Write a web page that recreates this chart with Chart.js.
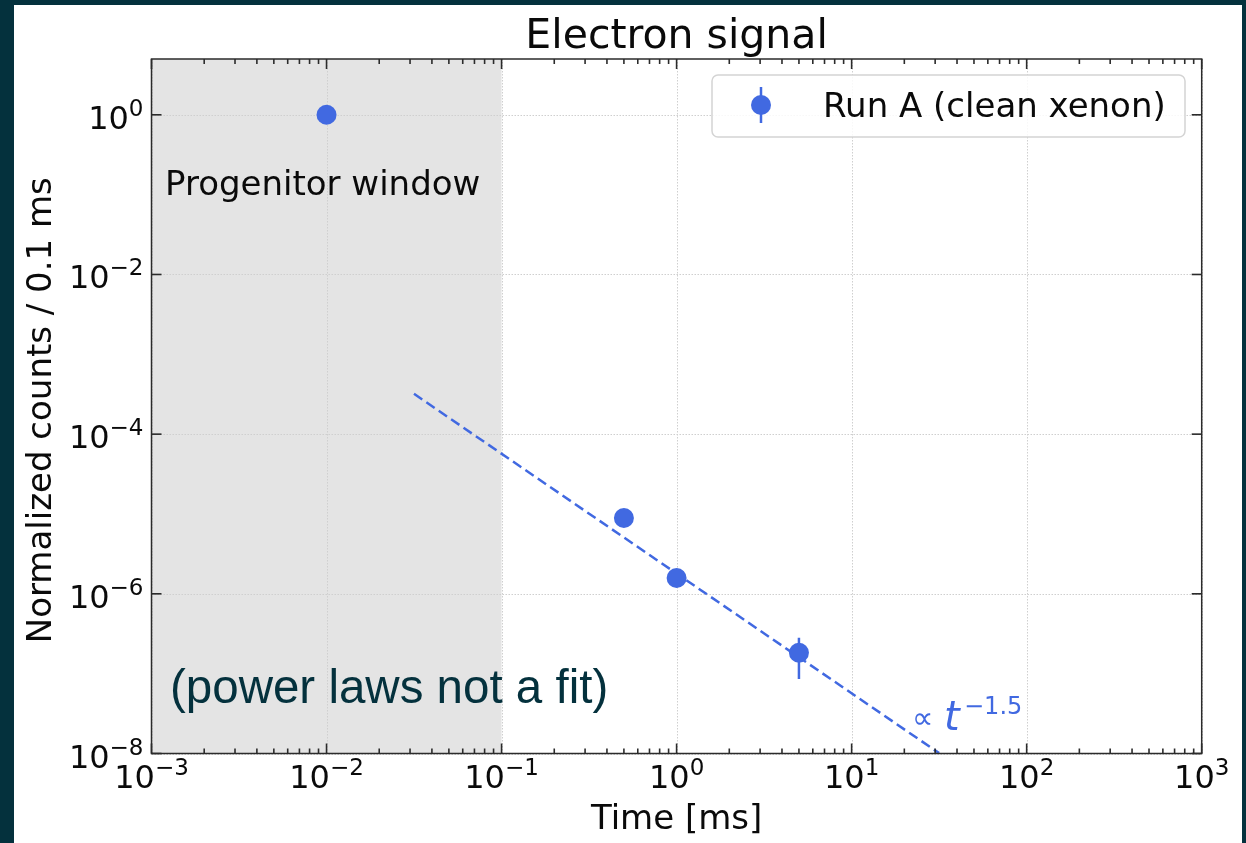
<!DOCTYPE html>
<html>
<head>
<meta charset="utf-8">
<script src="https://cdn.jsdelivr.net/npm/chart.js@4.4.1/dist/chart.umd.min.js"></script>
<style>
  html, body { margin: 0; padding: 0; background: #04313d; }
  #panel { position: absolute; left: 14px; top: 5px; width: 1228px; height: 838px; background: #fff; }
  #wrap { position: absolute; left: 0; top: 0; width: 1246px; height: 843px; }
</style>
</head>
<body>
<div id="panel"></div>
<div id="wrap"><canvas id="chart"></canvas></div>
<script>
// data
const runLabel = 'Run A (clean xenon)';
const runT = [0.01, 0.5, 1, 5];
const runY = [1.0, 8.9e-6, 1.58e-6, 1.83e-7];
const runErrLo = [0.97, 8.5e-6, 1.5e-6, 8.6e-8];
const runErrHi = [1.03, 9.3e-6, 1.66e-6, 2.82e-7];

// power law guide, t^-1.5 (not a fit)
const lawT = [0.0316, 31.6];
const lawY = [3.2e-4, 1.01e-8];

const windowRange = [1e-3, 1e-1];
const xTickExps = [-3, -2, -1, 0, 1, 2, 3];
const yTickExps = [-8, -6, -4, -2, 0];

const blue = '#4169e1';
const ink = '#0a0a0a';

function sciLabel(ctx, exp, x, y, align) {
  const sup = exp < 0 ? '\u2212' + (-exp) : String(exp);
  ctx.font = '32px "DejaVu Sans"';
  const w1 = ctx.measureText('10').width;
  ctx.font = '23px "DejaVu Sans"';
  const w2 = ctx.measureText(sup).width;
  const x0 = align === 'center' ? x - (w1 + w2) / 2 : x - (w1 + w2);
  ctx.textAlign = 'left';
  ctx.font = '32px "DejaVu Sans"';
  ctx.fillText('10', x0, y);
  ctx.font = '23px "DejaVu Sans"';
  ctx.fillText(sup, x0 + w1, y - 13);
}

function seg(ctx, x0, y0, x1, y1) {
  ctx.beginPath();
  ctx.moveTo(x0, y0);
  ctx.lineTo(x1, y1);
  ctx.stroke();
}

const axesPlugin = {
  id: 'axesPlugin',
  beforeDatasetsDraw(chart) {
    const { ctx, chartArea: a, scales: { x, y } } = chart;
    ctx.save();
    const w0 = x.getPixelForValue(windowRange[0]);
    const w1 = x.getPixelForValue(windowRange[1]);
    ctx.fillStyle = '#e4e4e4';
    ctx.fillRect(w0, a.top, w1 - w0, a.bottom - a.top);

    ctx.strokeStyle = '#cfcfcf';
    ctx.lineWidth = 1;
    ctx.setLineDash([1.5, 1.5]);
    xTickExps.forEach(e => {
      const px = Math.round(x.getPixelForValue(10 ** e)) + 0.5;
      seg(ctx, px, a.top, px, a.bottom);
    });
    yTickExps.forEach(e => {
      const py = Math.round(y.getPixelForValue(10 ** e)) + 0.5;
      seg(ctx, a.left, py, a.right, py);
    });
    ctx.restore();
  },
  afterDatasetsDraw(chart) {
    const { ctx, chartArea: a, scales: { x, y } } = chart;
    ctx.save();
    ctx.strokeStyle = '#2b2b2b';
    ctx.lineWidth = 1.5;
    ctx.strokeRect(a.left, a.top, a.right - a.left, a.bottom - a.top);

    // ticks, all pointing inward
    ctx.lineWidth = 1.6;
    xTickExps.forEach((e, i) => {
      const px = x.getPixelForValue(10 ** e);
      seg(ctx, px, a.bottom, px, a.bottom - 10);
      seg(ctx, px, a.top, px, a.top + 10);
      if (i < xTickExps.length - 1) {
        for (let m = 2; m <= 9; m++) {
          const mx = x.getPixelForValue(m * 10 ** e);
          seg(ctx, mx, a.bottom, mx, a.bottom - 5);
          seg(ctx, mx, a.top, mx, a.top + 5);
        }
      }
    });
    yTickExps.forEach(e => {
      const py = y.getPixelForValue(10 ** e);
      seg(ctx, a.left, py, a.left + 10, py);
      seg(ctx, a.right, py, a.right - 10, py);
    });

    // tick labels
    ctx.fillStyle = ink;
    ctx.textBaseline = 'alphabetic';
    xTickExps.forEach(e => sciLabel(ctx, e, x.getPixelForValue(10 ** e), a.bottom + 34, 'center'));
    yTickExps.forEach(e => sciLabel(ctx, e, a.left - 8, y.getPixelForValue(10 ** e) + 14, 'right'));

    // titles
    const cx = (a.left + a.right) / 2;
    ctx.textAlign = 'center';
    ctx.font = '41px "DejaVu Sans"';
    ctx.fillText('Electron signal', cx, 48);
    ctx.font = '34px "DejaVu Sans"';
    ctx.fillText('Time [ms]', cx, 829);
    ctx.save();
    ctx.translate(51, (a.top + a.bottom) / 2 + 4);
    ctx.rotate(-Math.PI / 2);
    ctx.fillText('Normalized counts / 0.1 ms', 0, 0);
    ctx.restore();

    // annotations
    ctx.textAlign = 'left';
    ctx.font = '34px "DejaVu Sans"';
    ctx.fillText('Progenitor window', 165, 195);

    ctx.fillStyle = blue;
    ctx.font = '30px "DejaVu Sans"';
    ctx.fillText('\u221d', 912, 728);
    ctx.font = 'italic 40px "DejaVu Sans"';
    ctx.fillText('t', 944, 730);
    ctx.font = '24px "DejaVu Sans"';
    ctx.fillText('\u22121.5', 964, 714);

    ctx.fillStyle = '#04313d';
    ctx.font = '47.5px "Liberation Sans"';
    ctx.fillText('(power laws not a fit)', 170, 703);

    // legend
    ctx.fillStyle = 'rgba(255,255,255,0.85)';
    ctx.strokeStyle = '#d4d4d4';
    ctx.lineWidth = 1.5;
    ctx.beginPath();
    ctx.roundRect(712, 75, 473, 62, 6);
    ctx.fill();
    ctx.stroke();
    ctx.strokeStyle = blue;
    ctx.lineWidth = 2.5;
    seg(ctx, 761, 87, 761, 123);
    ctx.fillStyle = blue;
    ctx.beginPath();
    ctx.arc(761, 105, 10, 0, Math.PI * 2);
    ctx.fill();
    ctx.fillStyle = ink;
    ctx.font = '34px "DejaVu Sans"';
    ctx.fillText(runLabel, 823, 117);
    ctx.restore();
  }
};

const errData = runT.flatMap((t, i) => [
  { x: t, y: runErrLo[i] },
  { x: t, y: runErrHi[i] },
  { x: t, y: null }
]);

new Chart(document.getElementById('chart'), {
  type: 'scatter',
  data: {
    datasets: [
      {
        label: runLabel,
        data: runT.map((t, i) => ({ x: t, y: runY[i] })),
        backgroundColor: blue,
        borderWidth: 0,
        pointRadius: 10,
        order: 0
      },
      {
        type: 'line',
        label: 'errors',
        data: errData,
        borderColor: blue,
        borderWidth: 2.5,
        pointRadius: 0,
        spanGaps: false,
        order: 1
      },
      {
        type: 'line',
        label: 'power law',
        data: lawT.map((t, i) => ({ x: t, y: lawY[i] })),
        borderColor: blue,
        borderWidth: 2.5,
        borderDash: [10, 5],
        pointRadius: 0,
        order: 2
      }
    ]
  },
  options: {
    responsive: true,
    maintainAspectRatio: false,
    animation: false,
    layout: { padding: { left: 151.5, top: 59, right: 44.3, bottom: 89.5 } },
    plugins: { legend: { display: false }, tooltip: { enabled: false } },
    scales: {
      x: { type: 'logarithmic', min: 1e-3, max: 1e3, display: false },
      y: { type: 'logarithmic', min: 1e-8, max: 5, display: false }
    }
  },
  plugins: [axesPlugin]
});
</script>
</body>
</html>
